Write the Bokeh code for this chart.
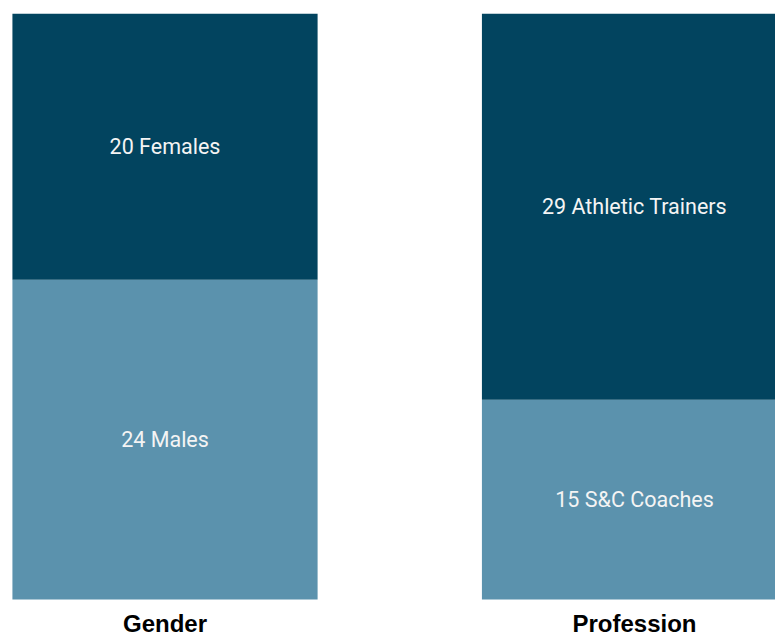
from bokeh.plotting import figure
from bokeh.models import ColumnDataSource, Range1d
from bokeh.core.properties import value
from bokeh.embed import file_html
from bokeh.resources import INLINE

categories = ["Gender", "Profession"]
bottom_values = [24, 15]
top_values = [20, 29]
bottom_labels = ["24 Males", "15 S&C Coaches"]
top_labels = ["20 Females", "29 Athletic Trainers"]

xpos = list(range(len(categories)))
totals = [b + t for b, t in zip(bottom_values, top_values)]
ymax = max(totals)

src_bottom = ColumnDataSource(dict(
    x=xpos, bottom=[0] * len(xpos), top=bottom_values,
    ymid=[b / 2 for b in bottom_values], label=bottom_labels))
src_top = ColumnDataSource(dict(
    x=xpos, bottom=bottom_values, top=totals,
    ymid=[b + t / 2 for b, t in zip(bottom_values, top_values)], label=top_labels))

# frame: top border 13px, bars span 586px, 38px below bars for category names
ppu = 586 / ymax
y_start = -38 / ppu
label_y = -24 / ppu

src_cat = ColumnDataSource(dict(x=xpos, y=[label_y] * len(xpos), label=categories))

p = figure(width=775, height=637, output_backend="svg", toolbar_location=None,
           x_range=Range1d(-0.3504, 1.3003), y_range=Range1d(y_start, ymax),
           min_border_left=0, min_border_right=0, min_border_top=13, min_border_bottom=0)

dark = "#02445F"
light = "#5B92AD"
p.vbar(x="x", width=0.65, bottom="bottom", top="top", source=src_bottom,
       fill_color=light, line_color=None)
p.vbar(x="x", width=0.65, bottom="bottom", top="top", source=src_top,
       fill_color=dark, line_color=None)

for src in (src_bottom, src_top):
    p.text(x="x", y="ymid", text="label", source=src, text_color="#f4f4f4",
           text_font=value("Roboto"), text_font_size="21.5px",
           text_align="center", text_baseline="middle")

p.text(x="x", y="y", text="label", source=src_cat, text_color="black",
       text_font=value("Liberation Sans"), text_font_style="bold",
       text_font_size="24px", text_align="center", text_baseline="middle")

p.xaxis.visible = False
p.yaxis.visible = False
p.xgrid.visible = False
p.ygrid.visible = False
p.outline_line_color = None

open("out.html", "w").write(file_html(p, INLINE))
